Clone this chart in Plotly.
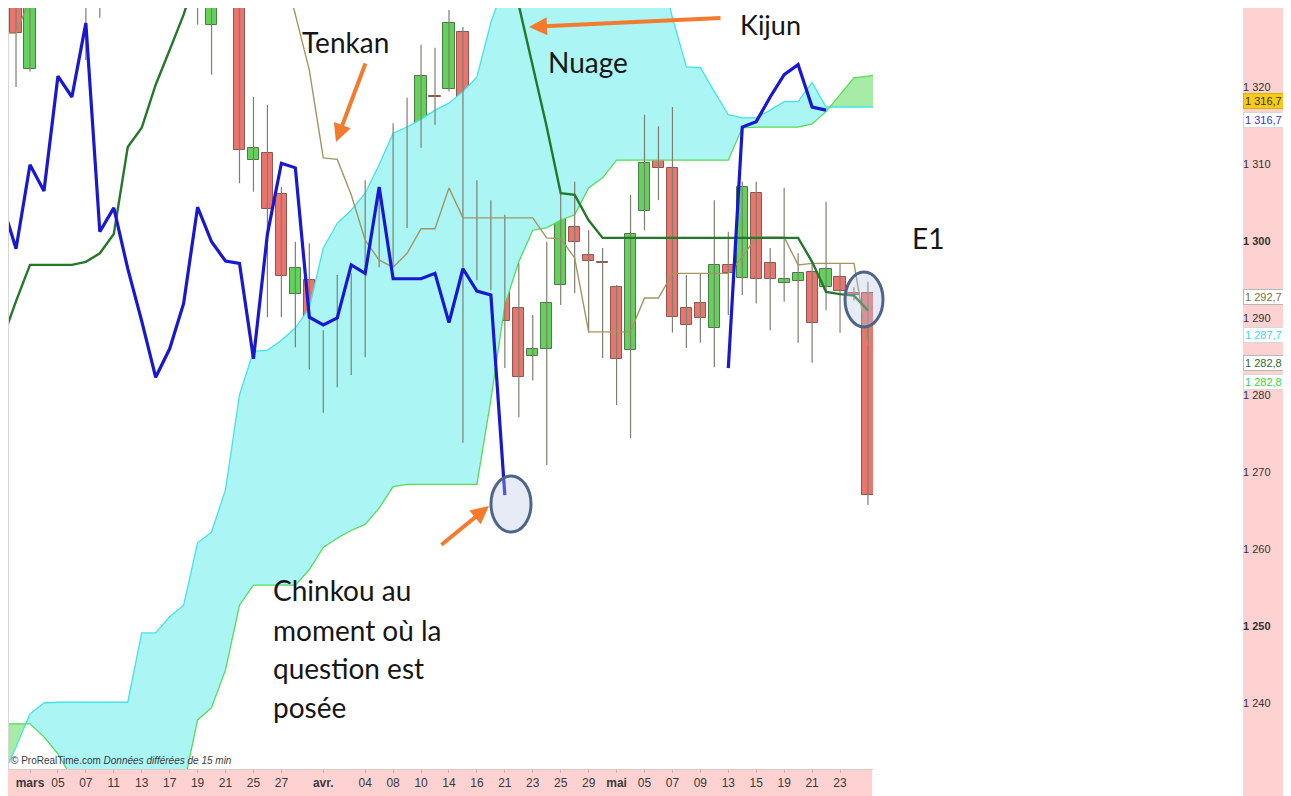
import plotly.graph_objects as go

# the page body has an 8 px margin, so the figure is 8 px smaller than the window
OFF = 8
W, H = 1291 - OFF, 796 - OFF

# ---------------- data (price values) ----------------
# trading-day index: 0 = 3 March, 21 = 1 April, 42 = 1 May, 58 = 23 May
candle_idx = list(range(-1, 61))
open_ = [1334.0, 1322.3, 1334.0, 1338.0, 1342.0, 1340.0, 1336.0, 1339.0, 1346.0, 1350.0,
         1348.0, 1344.0, 1341.0, 1336.0, 1328.1, 1337.0, 1342.0, 1310.5, 1311.4, 1306.1,
         1293.1, 1294.9, 1285.7, 1281.6, 1291.8, 1287.8, 1304.2, 1299.1, 1311.3, 1312.9,
         1318.8, 1319.7, 1327.1, 1303.0, 1303.6, 1295.2, 1291.3, 1285.1, 1286.0, 1294.3,
         1301.8, 1298.2, 1297.2, 1294.0, 1285.8, 1303.9, 1311.2, 1309.5, 1291.3, 1292.0,
         1288.7, 1296.9, 1295.2, 1306.2, 1297.1, 1294.5, 1294.8, 1296.0, 1294.0, 1295.3,
         1293.2, 1293.2]
high = [1336.0, 1336.5, 1340.0, 1344.0, 1347.0, 1345.0, 1342.0, 1348.0, 1352.0, 1356.0,
        1353.0, 1349.0, 1345.0, 1340.0, 1340.0, 1345.0, 1344.0, 1318.7, 1317.7, 1307.0,
        1299.9, 1299.7, 1288.4, 1295.6, 1295.8, 1307.9, 1306.9, 1315.3, 1318.6, 1325.5,
        1325.1, 1330.0, 1327.8, 1307.9, 1305.3, 1303.4, 1297.1, 1290.4, 1299.9, 1306.2,
        1307.7, 1301.4, 1299.1, 1294.3, 1306.0, 1316.4, 1314.9, 1317.4, 1295.6, 1295.8,
        1305.3, 1301.2, 1307.7, 1307.7, 1299.1, 1306.9, 1298.4, 1297.1, 1305.1, 1297.1,
        1294.0, 1294.7]
low = [1320.0, 1322.0, 1331.5, 1335.0, 1338.0, 1323.5, 1329.0, 1336.0, 1343.0, 1346.0,
       1342.0, 1338.0, 1334.0, 1328.1, 1321.6, 1332.0, 1307.5, 1306.4, 1290.1, 1290.1,
       1286.2, 1283.3, 1277.7, 1281.0, 1282.6, 1284.9, 1296.6, 1296.6, 1301.7, 1312.1,
       1315.1, 1319.4, 1273.8, 1294.9, 1293.6, 1283.5, 1277.1, 1281.9, 1270.9, 1291.7,
       1293.2, 1288.1, 1284.8, 1278.7, 1274.4, 1301.4, 1305.3, 1288.1, 1286.1, 1286.8,
       1283.6, 1290.4, 1293.0, 1291.9, 1288.4, 1292.1, 1286.8, 1284.2, 1291.0, 1288.1,
       1292.3, 1265.7]
close = [1327.0, 1333.5, 1338.0, 1342.0, 1340.0, 1336.0, 1339.0, 1346.0, 1350.0, 1348.0,
         1344.0, 1341.0, 1336.0, 1333.0, 1337.0, 1342.0, 1311.8, 1312.1, 1304.2, 1295.5,
         1296.5, 1284.3, 1280.5, 1291.4, 1285.2, 1304.9, 1299.0, 1309.9, 1306.5, 1321.4,
         1318.7, 1328.3, 1301.2, 1304.3, 1296.4, 1289.6, 1282.3, 1286.0, 1291.9, 1304.4,
         1299.9, 1297.4, 1297.1, 1284.7, 1300.9, 1310.1, 1309.5, 1290.1, 1289.1, 1290.0,
         1296.9, 1295.8, 1307.0, 1295.1, 1295.1, 1295.1, 1295.8, 1289.4, 1296.4, 1293.5,
         1293.0, 1267.0]

line_idx = list(range(-2, 61))
tenkan = [1327.0, 1327.0, 1331.4, 1336.0, 1338.0, 1339.0,
          1340.0, 1341.0, 1342.0, 1343.0, 1344.0, 1344.0, 1343.0, 1342.0, 1341.0, 1340.0,
          1339.0, 1338.0, 1337.0, 1337.0,
          1336.5, 1329.4, 1322.2, 1310.8, 1310.6, 1306.0, 1300.1, 1297.5, 1296.6, 1298.4,
          1301.6, 1301.6, 1306.9, 1303.0, 1303.0, 1303.0, 1303.0, 1303.0, 1303.0, 1300.4,
          1300.3, 1297.8, 1288.2, 1288.2, 1288.2, 1288.2, 1292.6, 1292.6, 1295.8, 1295.8,
          1295.8, 1295.8, 1295.8, 1297.9, 1300.5, 1300.5, 1300.5, 1296.9, 1297.1, 1297.1,
          1297.1, 1297.1, 1286.5]
kijun = [1287.1, 1292.2, 1296.9, 1296.9, 1296.9, 1296.9, 1297.3, 1298.4, 1300.9, 1312.2,
         1314.7, 1320.3, 1324.8, 1329.4, 1335.0,
         1338.0, 1339.0, 1340.0, 1340.0, 1341.0, 1341.0, 1341.0, 1341.0, 1341.0, 1341.0,
         1341.0, 1341.0, 1341.0, 1341.0, 1341.0, 1341.0, 1341.0, 1341.0, 1340.0, 1340.0,
         1339.0,
         1338.5, 1330.6, 1322.5, 1314.8, 1306.2, 1306.0, 1302.7,
         1300.4, 1300.4, 1300.4, 1300.4, 1300.4, 1300.4, 1300.4, 1300.4, 1300.4, 1300.4,
         1300.4, 1300.4, 1300.4, 1300.4, 1300.4,
         1297.3, 1293.4, 1293.1, 1292.9, 1291.0]

cloud_idx = list(range(-2, 62))
senkou_a = [1230.3, 1234.3, 1238.6, 1240.0, 1240.1, 1240.1, 1240.1, 1240.1, 1240.1, 1240.1,
            1249.1, 1249.1, 1251.2, 1252.7, 1260.8, 1262.2, 1267.7, 1280.0, 1285.7, 1285.8,
            1287.1, 1288.7, 1291.3, 1299.1, 1302.3, 1304.0, 1306.2, 1309.9, 1314.0, 1314.8,
            1315.8, 1317.0, 1317.9, 1319.4, 1321.3, 1328.4, 1333.5,
            1338.0, 1340.0, 1341.0, 1342.0, 1342.0, 1342.0, 1342.0, 1341.0, 1340.0, 1339.0,
            1336.4, 1329.0, 1322.6, 1322.5, 1319.4, 1316.4, 1316.0, 1316.0, 1317.0, 1318.1,
            1318.1, 1320.6, 1317.4, 1317.4, 1317.4, 1317.4, 1317.4]
senkou_b = [1237.3, 1237.3, 1237.3, 1235.6, 1233.4, 1230.3,
            1225.0, 1225.0, 1225.0, 1225.0, 1225.0, 1225.0, 1225.0,
            1229.2, 1237.8, 1239.4, 1244.3, 1252.7, 1255.3, 1255.3, 1255.3, 1255.3,
            1257.3, 1260.2, 1261.4, 1262.4, 1263.2, 1265.3, 1268.1,
            1268.4, 1268.4, 1268.4, 1268.4, 1268.4, 1268.4,
            1279.4, 1291.7, 1297.3, 1301.4, 1301.7, 1302.7, 1303.4, 1306.9, 1308.2,
            1310.5, 1310.5, 1310.5, 1310.5, 1310.5, 1310.5, 1310.5, 1310.5, 1310.5,
            1314.7, 1314.8, 1314.8, 1314.8, 1314.8, 1315.2, 1316.8, 1319.0, 1321.2,
            1321.4, 1321.8]

# earlier chinkou trace drawn on the right part of the screenshot
chinkou_prev_idx = [50, 51, 52, 53, 54, 55, 56, 57]
chinkou_prev = [1283.5, 1314.8, 1315.5, 1318.7, 1321.6, 1322.9, 1317.4, 1317.0]

CHINKOU_SHIFT = 26

tick_idx = [0, 2, 4, 6, 8, 10, 12, 14, 16, 18, 21, 24, 26, 28, 30, 32, 34, 36, 38, 40,
            42, 44, 46, 48, 50, 52, 54, 56, 58]
tick_text = ["<b>mars</b>", "05", "07", "11", "13", "17", "19", "21", "25", "27", "<b>avr.</b>",
             "04", "08", "10", "14", "16", "21", "23", "25", "29", "<b>mai</b>", "05", "07",
             "09", "13", "15", "19", "21", "23"]
price_ticks = [1240, 1250, 1260, 1270, 1280, 1290, 1300, 1310, 1320, 1330]
price_text = ["1 240", "<b>1 250</b>", "1 260", "1 270", "1 280", "1 290", "<b>1 300</b>",
              "1 310", "1 320", "1 330"]

# ---------------- helpers ----------------
def px(x):
    return (x - OFF) / W

def py(y):
    return 1 - (y - OFF) / H


def with_crossings(xs, a, b):
    xd, ad, bd = [], [], []
    for k in range(len(xs)):
        if k > 0:
            d0 = a[k - 1] - b[k - 1]
            d1 = a[k] - b[k]
            if d0 * d1 < 0:
                t = d0 / (d0 - d1)
                xc = xs[k - 1] + t * (xs[k] - xs[k - 1])
                yc = a[k - 1] + t * (a[k] - a[k - 1])
                xd.append(xc); ad.append(yc); bd.append(yc)
        xd.append(xs[k]); ad.append(a[k]); bd.append(b[k])
    return xd, ad, bd


xd, ad, bd = with_crossings(cloud_idx, senkou_a, senkou_b)
lower = [min(p, q) for p, q in zip(ad, bd)]

chk_x = [i - CHINKOU_SHIFT for i in candle_idx if i - CHINKOU_SHIFT >= -2]
chk_y = [c for i, c in zip(candle_idx, close) if i - CHINKOU_SHIFT >= -2]

# candle bodies / wicks built from OHLC
body_base = [min(o, c) for o, c in zip(open_, close)]
body_len = [max(abs(c - o), 0.12) for o, c in zip(open_, close)]
up = [c > o for o, c in zip(open_, close)]
body_fill = ["#62d25a" if u else "#ea756e" for u in up]
body_edge = ["#4c7a48" if u else "#8c5850" for u in up]
wick_x, wick_y = [], []
for i, h, l in zip(candle_idx, high, low):
    wick_x += [i, i, None]
    wick_y += [l, h, None]

fig = go.Figure()
nohover = dict(hoverinfo="skip", showlegend=False)

# cloud fills
fig.add_trace(go.Scatter(x=xd, y=lower, mode="lines", line=dict(width=0), **nohover))
fig.add_trace(go.Scatter(x=xd, y=ad, mode="lines", line=dict(width=0), fill="tonexty",
                         fillcolor="#abf5f5", **nohover))
fig.add_trace(go.Scatter(x=xd, y=lower, mode="lines", line=dict(width=0), **nohover))
fig.add_trace(go.Scatter(x=xd, y=bd, mode="lines", line=dict(width=0), fill="tonexty",
                         fillcolor="#a6eca6", **nohover))
# cloud edges
fig.add_trace(go.Scatter(x=cloud_idx, y=senkou_a, mode="lines",
                         line=dict(color="#45e3e6", width=1.3), **nohover))
fig.add_trace(go.Scatter(x=cloud_idx, y=senkou_b, mode="lines",
                         line=dict(color="#55dd55", width=1.3), **nohover))

# candles
fig.add_trace(go.Scatter(x=wick_x, y=wick_y, mode="lines",
                         line=dict(color="#7f7f70", width=1.2), **nohover))
fig.add_trace(go.Bar(x=candle_idx, y=body_len, base=body_base, width=0.8,
                     marker=dict(color=body_fill, line=dict(color=body_edge, width=1)),
                     **nohover))

# tenkan / kijun / chinkou
fig.add_trace(go.Scatter(x=line_idx, y=tenkan, mode="lines",
                         line=dict(color="#a39562", width=1.4), **nohover))
fig.add_trace(go.Scatter(x=line_idx, y=kijun, mode="lines",
                         line=dict(color="#23782a", width=2.4), **nohover))
fig.add_trace(go.Scatter(x=chk_x, y=chk_y, mode="lines",
                         line=dict(color="#1818d2", width=3.2), **nohover))
fig.add_trace(go.Scatter(x=chinkou_prev_idx, y=chinkou_prev, mode="lines",
                         line=dict(color="#1818d2", width=3.2), **nohover))

PINK = "#fdd2d1"
shapes = [
    dict(type="rect", xref="paper", yref="paper", x0=px(1243), x1=1, y0=0, y1=1,
         fillcolor=PINK, line=dict(width=0), layer="below"),
    dict(type="rect", xref="paper", yref="paper", x0=px(8), x1=px(872), y0=0, y1=py(769),
         fillcolor=PINK, line=dict(width=0), layer="below"),
    dict(type="line", xref="paper", yref="paper", x0=px(8.5), x1=px(8.5), y0=py(769), y1=1,
         line=dict(color="#d6d6d6", width=1)),
    dict(type="circle", xref="paper", yref="paper", x0=px(491), x1=px(531), y0=py(532), y1=py(476),
         fillcolor="rgba(185,198,228,0.35)", line=dict(color="#4d6588", width=3)),
    dict(type="circle", xref="paper", yref="paper", x0=px(845), x1=px(883), y0=py(327), y1=py(272),
         fillcolor="rgba(185,198,228,0.35)", line=dict(color="#4d6588", width=3)),
]

TXT = dict(family="Lato, Open Sans, sans-serif", size=28, color="#161616")
ann = []

def text(x, y, s, anchor="center", size=28):
    ann.append(dict(xref="paper", yref="paper", x=px(x), y=py(y), text=s, showarrow=False,
                    xanchor=anchor, yanchor="middle", font=dict(TXT, size=size)))

text(345, 42, "Tenkan")
text(770, 25, "Kijun", size=27)
text(588, 62, "Nuage")
text(928, 238, "E1")
text(271, 590, "Chinkou au", "left")
text(271, 630, "moment où la", "left")
text(271, 668, "question est", "left")
text(271, 707, "posée", "left")

ARROW = "#f47b2e"

def arrow(hx, hy, tx, ty):
    ann.append(dict(xref="paper", yref="paper", x=px(hx), y=py(hy), ax=tx - hx, ay=ty - hy,
                    axref="pixel", ayref="pixel", text="", showarrow=True, arrowhead=2,
                    arrowsize=0.9, arrowwidth=4, arrowcolor=ARROW, standoff=0))

arrow(336, 142, 366, 62)
arrow(529, 27, 722, 18)
arrow(489, 506, 440, 546)

ann.append(dict(xref="paper", yref="paper", x=px(9), y=py(760), xanchor="left", yanchor="middle",
                text="© ProRealTime.com <i>Données différées de 15 min</i>", showarrow=False,
                font=dict(family="Liberation Sans, Arial, sans-serif", size=10, color="#3a3a3a")))

def tag(y, s, color, bg, border):
    ann.append(dict(xref="paper", yref="paper", x=px(1243), y=py(y), xanchor="left",
                    yanchor="middle", text=s, showarrow=False, bgcolor=bg, bordercolor=border,
                    borderwidth=1, borderpad=1,
                    font=dict(family="Liberation Sans, Arial, sans-serif", size=11, color=color)))

tag(101, "1 316,7", "#3a3000", "#f7c919", "#e0b000")
tag(120, "1 316,7", "#3434e0", "#ffffff", "#d8d8d8")
tag(297, "1 292,7", "#75703a", "#ffffff", "#b8b8b8")
tag(335, "1 287,7", "#3fd8e6", "#ffffff", "#d8d8d8")
tag(363, "1 282,8", "#2d6a2d", "#ffffff", "#b8b8b8")
tag(382, "1 282,8", "#38d838", "#ffffff", "#d8d8d8")

fig.update_layout(
    template="none",
    width=W, height=H,
    margin=dict(l=0, r=0, t=0, b=0),
    paper_bgcolor="#ffffff", plot_bgcolor="#ffffff",
    showlegend=False,
    bargap=0,
    shapes=shapes,
    annotations=ann,
    xaxis=dict(domain=[px(8), px(873)], range=[(8 - 30) / 13.966, (873 - 30) / 13.966],
               tickmode="array", tickvals=tick_idx, ticktext=tick_text,
               tickfont=dict(family="Liberation Sans, Arial, sans-serif", size=12, color="#3a3a3a"),
               ticks="outside", ticklen=3, tickcolor="#c4b0b0", showgrid=False, zeroline=False,
               showline=True, linecolor="#dcc6c6", linewidth=1,
               fixedrange=True, automargin=False),
    yaxis=dict(domain=[py(769), py(8)], range=[1231.43, 1330.26], side="right",
               anchor="free", position=px(1242),
               tickmode="array", tickvals=price_ticks, ticktext=price_text,
               tickfont=dict(family="Liberation Sans, Arial, sans-serif", size=11, color="#333333"),
               ticks="", showgrid=False, zeroline=False, showline=False,
               fixedrange=True, automargin=False),
)

fig.write_html("out.html")
